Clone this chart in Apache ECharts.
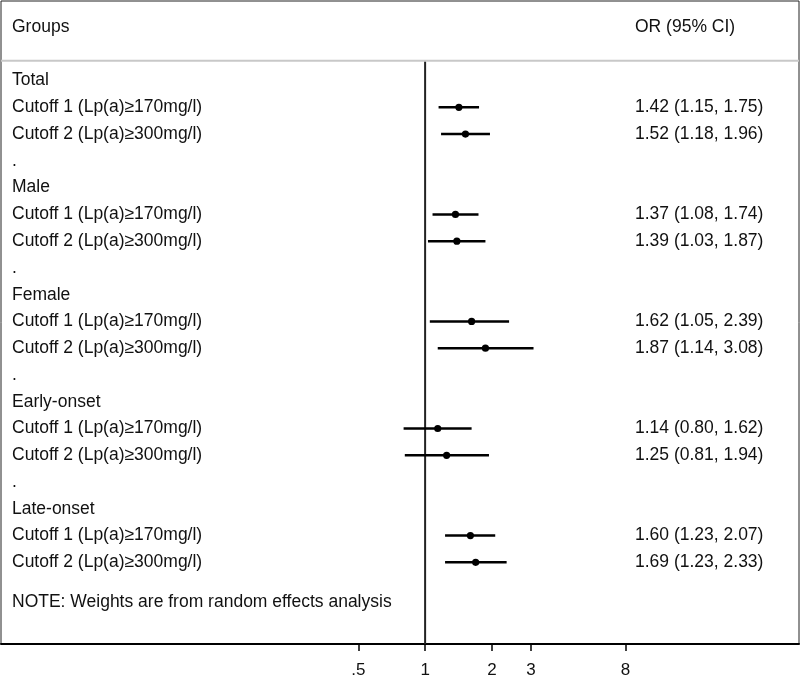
<!DOCTYPE html>
<html>
<head>
<meta charset="utf-8">
<script src="https://cdn.jsdelivr.net/npm/echarts@6/dist/echarts.min.js"></script>
<style>html,body{margin:0;padding:0;background:#fff;}#chart{width:800px;height:679px;}</style>
</head>
<body>
<div id="chart"></div>
<script>
// ---- data ----
const groups = ['Total', 'Male', 'Female', 'Early-onset', 'Late-onset'];
const cutoffs = ['Cutoff 1 (Lp(a)≥170mg/l)', 'Cutoff 2 (Lp(a)≥300mg/l)'];
const orValues = [1.42, 1.52, 1.37, 1.39, 1.62, 1.87, 1.14, 1.25, 1.60, 1.69];
const ciLower  = [1.15, 1.18, 1.08, 1.03, 1.05, 1.14, 0.80, 0.81, 1.23, 1.23];
const ciUpper  = [1.75, 1.96, 1.74, 1.87, 2.39, 3.08, 1.62, 1.94, 2.07, 2.33];
const xTickValues = [0.5, 1, 2, 3, 8];
const xTickLabels = ['.5', '1', '2', '3', '8'];
const headerLeft = 'Groups';
const headerRight = 'OR (95% CI)';
const noteText = 'NOTE: Weights are from random effects analysis';

// ---- build rows ----
const FONT = 'Liberation Sans, Arial, sans-serif';
const textRows = []; // [row, text, column]
const ciRows = [];   // [or, lo, hi, row]
textRows.push([-2, headerLeft, 0]);
textRows.push([-2, headerRight, 1]);
groups.forEach((g, gi) => {
  const base = gi * 4;
  textRows.push([base, g, 0]);
  cutoffs.forEach((c, ci) => {
    const k = gi * 2 + ci;
    const r = base + 1 + ci;
    textRows.push([r, c, 0]);
    textRows.push([r, orValues[k].toFixed(2) + ' (' + ciLower[k].toFixed(2) + ', ' + ciUpper[k].toFixed(2) + ')', 1]);
    ciRows.push([orValues[k], ciLower[k], ciUpper[k], r]);
  });
  if (gi < groups.length - 1) textRows.push([base + 3, '.', 0]);
});
const lastRow = groups.length * 4 - 2;
textRows.push([lastRow + 1.5, noteText, 0]);

const Y_MIN = -2.972, Y_MAX = 21.05, SEP_ROW = -0.737;

const chart = echarts.init(document.getElementById('chart'), null, {renderer: 'canvas'});
chart.setOption({
  animation: false,
  backgroundColor: '#fff',
  grid: {left: 1, right: 1, top: 1, bottom: 33, show: true, borderColor: '#222', borderWidth: 1, backgroundColor: 'transparent'},
  xAxis: {
    type: 'log', logBase: 2, min: 0.01227, max: 48.4,
    axisLine: {show: true, onZero: false, lineStyle: {color: '#000', width: 2}},
    axisTick: {show: true, customValues: xTickValues, length: 7, lineStyle: {color: '#000', width: 1.5}},
    axisLabel: {
      show: true, customValues: xTickValues, margin: 18, color: '#111', fontSize: 17, fontFamily: FONT,
      formatter: function (v) {
        let best = 0;
        xTickValues.forEach((t, i) => { if (Math.abs(Math.log(t) - Math.log(v)) < Math.abs(Math.log(xTickValues[best]) - Math.log(v))) best = i; });
        return xTickLabels[best];
      }
    },
    splitLine: {show: false}
  },
  yAxis: {type: 'value', inverse: true, min: Y_MIN, max: Y_MAX, show: false, splitLine: {show: false}},
  series: [
    {
      type: 'custom', name: 'refs', silent: true,
      data: [[1, SEP_ROW]],
      encode: {x: 0, y: 1},
      renderItem: function (params, api) {
        const cs = params.coordSys;
        const top = api.coord([1, SEP_ROW]);
        const bottom = api.coord([1, Y_MAX]);
        return {type: 'group', children: [
          {type: 'line', shape: {x1: cs.x, y1: top[1], x2: cs.x + cs.width, y2: top[1]}, style: {stroke: '#c8c8c8', lineWidth: 2}},
          {type: 'line', shape: {x1: top[0], y1: top[1] + 1, x2: bottom[0], y2: bottom[1]}, style: {stroke: '#222', lineWidth: 2}}
        ]};
      },
      z: 1
    },
    {
      type: 'custom', name: 'ci', silent: true,
      data: ciRows,
      encode: {x: [0, 1, 2], y: 3},
      renderItem: function (params, api) {
        const r = api.value(3);
        const p = api.coord([api.value(0), r]);
        const lo = api.coord([api.value(1), r]);
        const hi = api.coord([api.value(2), r]);
        return {type: 'group', children: [
          {type: 'line', shape: {x1: lo[0], y1: lo[1], x2: hi[0], y2: hi[1]}, style: {stroke: '#000', lineWidth: 2.5}},
          {type: 'circle', shape: {cx: p[0], cy: p[1], r: 3.6}, style: {fill: '#000'}}
        ]};
      },
      z: 3
    },
    {
      type: 'custom', name: 'text', silent: true,
      data: textRows.map(t => [1, t[0]]),
      encode: {x: 0, y: 1},
      renderItem: function (params, api) {
        const cs = params.coordSys;
        const t = textRows[params.dataIndex];
        const y = api.coord([1, api.value(1)])[1];
        const x = t[2] === 0 ? cs.x + 11 : cs.x + 634;
        return {type: 'text', style: {x: x, y: y, text: t[1], fill: '#111', fontSize: 17.5, fontFamily: FONT, align: 'left', verticalAlign: 'middle'}};
      },
      z: 4
    }
  ]
});
</script>
</body>
</html>
